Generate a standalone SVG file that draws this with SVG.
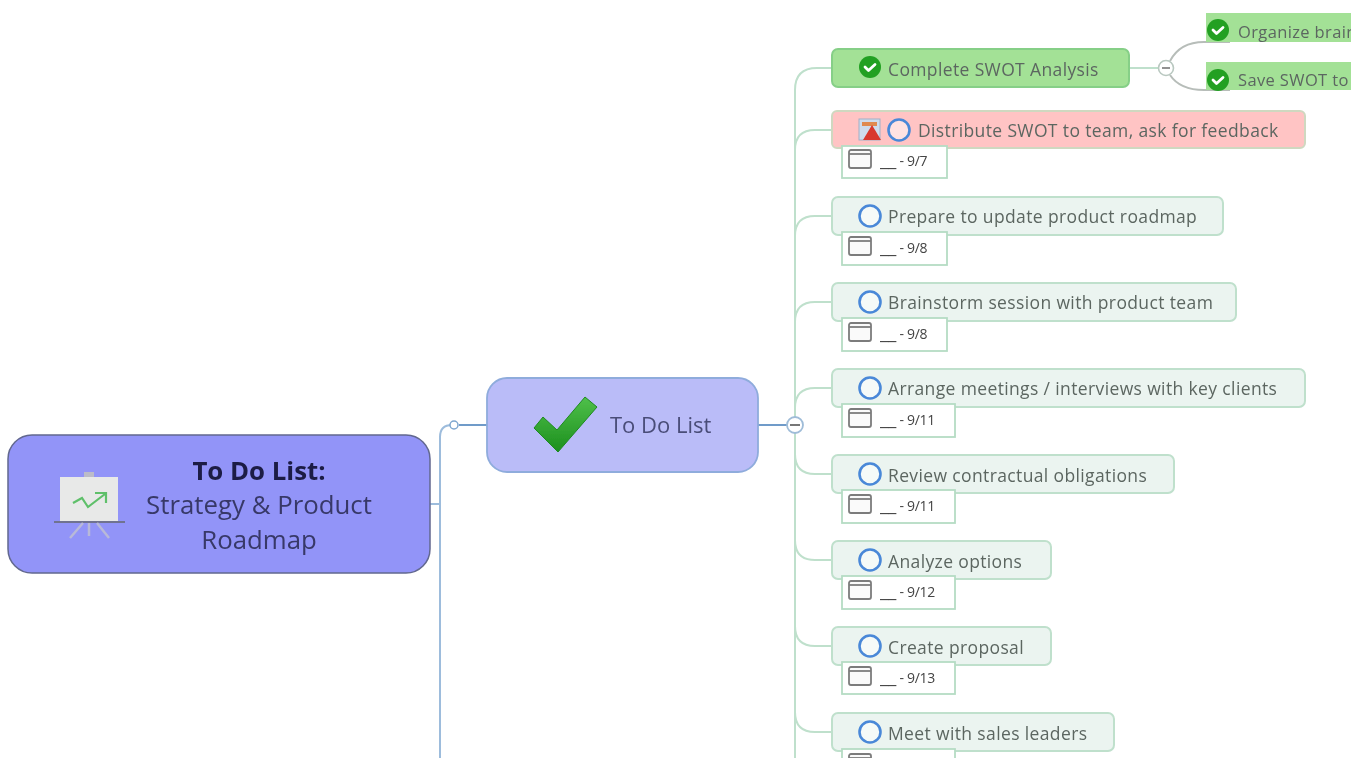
<svg xmlns="http://www.w3.org/2000/svg" width="1363" height="758" viewBox="0 0 1363 758">
<style>
text{font-family:"Open Sans","Noto Sans","Liberation Sans",sans-serif;fill:#5c6661;font-size:17.5px;letter-spacing:.37px}
text:not(.big):not(.dt){transform:translateY(1px)}
.task{fill:#ebf4f0;stroke:#bfe0cc;stroke-width:2}
.done{fill:#a3e196;stroke:#86cf87;stroke-width:2}
.date{fill:#fff;stroke:#b5dcc4;stroke-width:1.8}
.dt{font-size:14px;fill:#444;letter-spacing:-.3px}
.us{font-size:19px}
.ring{fill:#fff;fill-opacity:.5;stroke:#4a88d8;stroke-width:2.6}
.cal{fill:#fafafa;stroke:#7c7c7c;stroke-width:1.8}
.g{fill:none;stroke:#bfe0cc;stroke-width:2}
.chk{fill:none;stroke:#fff;stroke-width:2.8;stroke-linecap:round;stroke-linejoin:round}
.big{font-size:25.800px;letter-spacing:0;fill:#373968}
</style>
<defs>
<filter id="soft" x="-2%" y="-2%" width="104%" height="104%"><feGaussianBlur stdDeviation="0.6"/></filter>
<clipPath id="pic"><rect x="0" y="0" width="1351" height="758"/></clipPath>
<linearGradient id="tick" x1="0" y1="0" x2="0" y2="1"><stop offset="0" stop-color="#4fc04a"/><stop offset="1" stop-color="#1c8f1e"/></linearGradient>
<g id="cd"><rect x="-11" y="-7" width="22" height="18" rx="2" class="cal"/><path d="M-11-3H11" stroke="#7c7c7c" stroke-width="1.800"/></g>
<g id="ok"><circle r="11" fill="#22a022"/><path d="M-5 0l3.500 3.500 6.500-6" class="chk"/></g>
</defs>
<rect width="1363" height="758" fill="#fff"/>
<g clip-path="url(#pic)"><g filter="url(#soft)">
<g id="connectors">
<path d="M430 504H440M440 758V437Q440 425 452 425" fill="none" stroke="#9dbcdc" stroke-width="2"/>
<path d="M459 425H487M758 425H787" fill="none" stroke="#6f9bc9" stroke-width="2"/>
<circle cx="454" cy="425" r="4" fill="#fff" stroke="#7ea6cf" stroke-width="1.500"/>
<path class="g" d="M795 758V90Q795 68 817 68H832M795 150Q795 130 815 130H832M795 236Q795 216 815 216H832M795 322Q795 302 815 302H832M795 408Q795 388 815 388H832M795 454Q795 474 815 474H832M795 540Q795 560 815 560H832M795 626Q795 646 815 646H832M795 712Q795 732 815 732H832"/>
<circle cx="795" cy="425" r="8" fill="#fff" stroke="#9fbcd8" stroke-width="1.800"/>
<path d="M790 425H800" stroke="#777" stroke-width="2"/>
<path d="M1129 68H1158" fill="none" stroke="#bfe0cc" stroke-width="2"/>
<path d="M1170 61Q1180 42 1204 42H1230M1170 75Q1180 90 1204 90H1230" fill="none" stroke="#b7bdb9" stroke-width="2"/>
<circle cx="1166" cy="68" r="7.500" fill="#fff" stroke="#b9c8c0" stroke-width="1.600"/>
<path d="M1162 68H1170" stroke="#777" stroke-width="1.600"/>
</g>
<g id="root">
<rect x="8" y="435" width="422" height="138" rx="24" fill="#9294f8" stroke="#62688f" stroke-width="1.500"/>
<rect x="60" y="477" width="58" height="44" fill="#e8e9e8"/>
<rect x="84" y="472" width="10" height="5" fill="#bcbcc8"/>
<path d="M54 522H125" stroke="#6f7390" stroke-width="2"/>
<path d="M70 538L83 523M89 523V536M97 523L109 538" stroke="#b8b9d8" stroke-width="2.500" fill="none"/>
<path d="M73 503L82 498L88 507L105 494M95 493H106V503" fill="none" stroke="#5fc06a" stroke-width="2.200"/>
<text x="259" y="480" text-anchor="middle" class="big" style="font-weight:700;fill:#1c1d44">To Do List:</text>
<text x="259" y="514" text-anchor="middle" class="big">Strategy &amp; Product</text>
<text x="259" y="549" text-anchor="middle" class="big">Roadmap</text>
</g>
<g id="todo">
<rect x="487" y="378" width="271" height="94" rx="20" fill="#babcf8" stroke="#8facdc" stroke-width="1.800"/>
<path d="M534 428L543 417L557 430L585 397L597 407L558 452Z" fill="url(#tick)" stroke="#1e8a20" stroke-linejoin="round"/>
<text x="610" y="432" style="font-size:22px;letter-spacing:0;fill:#4a4d78">To Do List</text>
</g>
<g id="swot">
<rect class="done" x="832" y="49" width="297" height="38" rx="6"/>
<use href="#ok" x="870" y="67"/>
<text x="888" y="75">Complete SWOT Analysis</text>
</g>
<g id="organize">
<rect x="1206" y="13" width="150" height="29" fill="#a3e196"/>
<use href="#ok" x="1218" y="30"/>
<text x="1238" y="37" style="font-size:16.500px">Organize brain</text>
</g>
<g id="save">
<rect x="1206" y="62" width="150" height="28" fill="#a3e196"/>
<use href="#ok" x="1218" y="80"/>
<text x="1238" y="85" style="font-size:16.500px">Save SWOT to</text>
</g>
<g id="distribute">
<rect x="832" y="111" width="473" height="37" rx="5" fill="#ffc4c4" stroke="#cfd8c0" stroke-width="2"/>
<rect x="859" y="119" width="21" height="21" fill="#cfdcec" stroke="#9fb0c8"/>
<rect x="862" y="122" width="15" height="4" fill="#e08a50"/>
<path d="M872 125L881 140H863Z" fill="#d8382e"/>
<circle class="ring" cx="899" cy="130" r="10.500"/>
<text x="918" y="136">Distribute SWOT to team, ask for feedback</text>
<rect class="date" x="842" y="146" width="105" height="32"/>
<use href="#cd" x="860" y="157"/>
<text class="dt" x="880" y="166"><tspan class="us">__</tspan> - 9/7</text>
</g>
<g id="prepare">
<rect class="task" x="832" y="197" width="391" height="38" rx="6"/>
<circle class="ring" cx="870" cy="216" r="10.500"/>
<text x="888" y="222">Prepare to update product roadmap</text>
<rect class="date" x="842" y="232" width="105" height="33"/>
<use href="#cd" x="860" y="244"/>
<text class="dt" x="880" y="253"><tspan class="us">__</tspan> - 9/8</text>
</g>
<g id="brainstorm">
<rect class="task" x="832" y="283" width="404" height="38" rx="6"/>
<circle class="ring" cx="870" cy="302" r="10.500"/>
<text x="888" y="308">Brainstorm session with product team</text>
<rect class="date" x="842" y="318" width="105" height="33"/>
<use href="#cd" x="860" y="330"/>
<text class="dt" x="880" y="339"><tspan class="us">__</tspan> - 9/8</text>
</g>
<g id="arrange">
<rect class="task" x="832" y="369" width="473" height="38" rx="6"/>
<circle class="ring" cx="870" cy="388" r="10.500"/>
<text x="888" y="394">Arrange meetings / interviews with key clients</text>
<rect class="date" x="842" y="404" width="113" height="33"/>
<use href="#cd" x="860" y="416"/>
<text class="dt" x="880" y="425"><tspan class="us">__</tspan> - 9/11</text>
</g>
<g id="review">
<rect class="task" x="832" y="455" width="342" height="38" rx="6"/>
<circle class="ring" cx="870" cy="474" r="10.500"/>
<text x="888" y="481">Review contractual obligations</text>
<rect class="date" x="842" y="490" width="113" height="33"/>
<use href="#cd" x="860" y="502"/>
<text class="dt" x="880" y="511"><tspan class="us">__</tspan> - 9/11</text>
</g>
<g id="analyze">
<rect class="task" x="832" y="541" width="219" height="38" rx="6"/>
<circle class="ring" cx="870" cy="560" r="10.500"/>
<text x="888" y="567">Analyze options</text>
<rect class="date" x="842" y="576" width="113" height="33"/>
<use href="#cd" x="860" y="588"/>
<text class="dt" x="880" y="597"><tspan class="us">__</tspan> - 9/12</text>
</g>
<g id="proposal">
<rect class="task" x="832" y="627" width="219" height="38" rx="6"/>
<circle class="ring" cx="870" cy="646" r="10.500"/>
<text x="888" y="653">Create proposal</text>
<rect class="date" x="842" y="662" width="113" height="32"/>
<use href="#cd" x="860" y="674"/>
<text class="dt" x="880" y="683"><tspan class="us">__</tspan> - 9/13</text>
</g>
<g id="sales">
<rect class="task" x="832" y="713" width="282" height="38" rx="6"/>
<circle class="ring" cx="870" cy="732" r="10.500"/>
<text x="888" y="739">Meet with sales leaders</text>
<rect class="date" x="842" y="749" width="113" height="33"/>
<use href="#cd" x="860" y="761"/>
<text class="dt" x="880" y="770"><tspan class="us">__</tspan> - 9/14</text>
</g>
</g></g>
</svg>
